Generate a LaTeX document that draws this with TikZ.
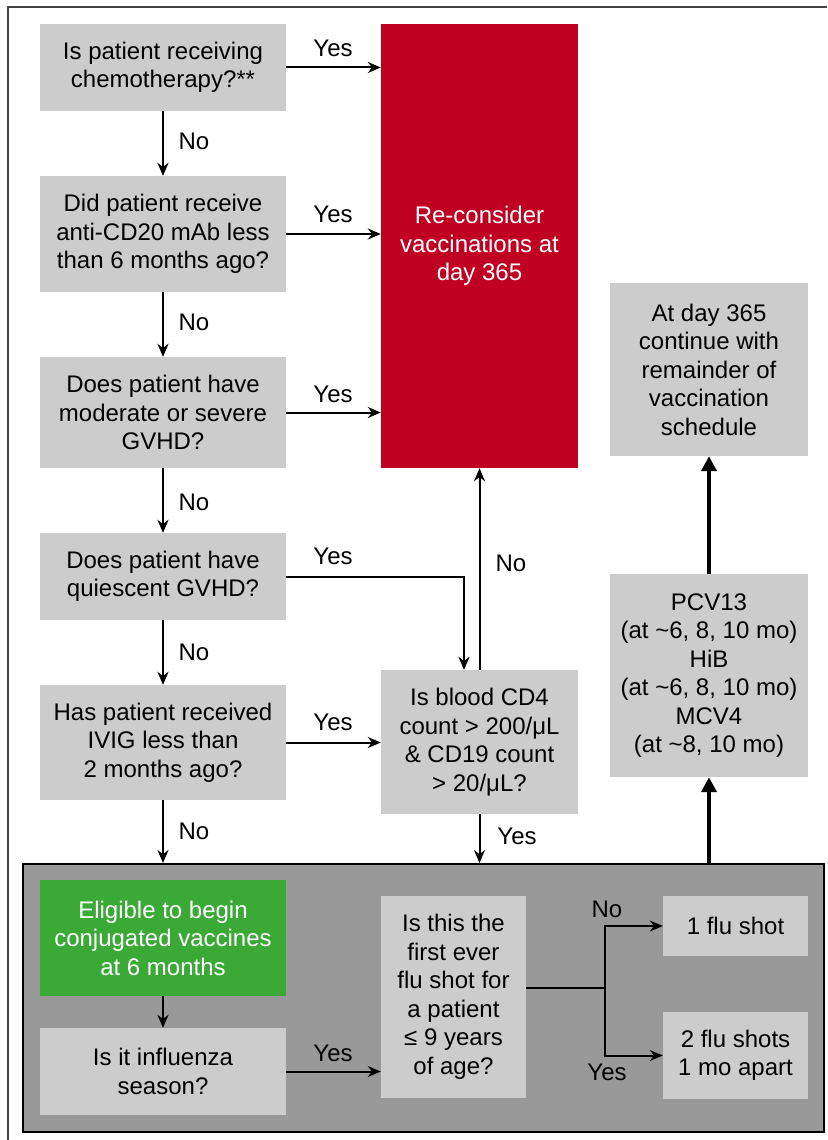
\documentclass[tikz,border=0pt]{standalone}
\usepackage{fontspec}
\setmainfont{Liberation Sans}
\usetikzlibrary{arrows.meta,calc}
\definecolor{boxgray}{HTML}{CCCCCC}
\definecolor{panelgray}{HTML}{999999}
\definecolor{redbox}{HTML}{C00022}
\definecolor{greenbox}{HTML}{3BA935}
\definecolor{framegray}{HTML}{444444}
\begin{document}
\begin{tikzpicture}[x=1pt,y=-1pt,
  every node/.style={font=\fontsize{24}{28.5}\selectfont, align=center, inner sep=0pt},
  box/.style={fill=boxgray, draw=none},
  arr/.style={line width=2pt, -{Stealth[length=13pt,width=11pt]}},
  plain/.style={line width=2pt},
  thickarr/.style={line width=4.5pt, -{Triangle[length=15pt,width=15pt]}}
]
\useasboundingbox (0,0) rectangle (827,1140);
\draw[framegray, line width=1.5pt] (8,1140) -- (8,7) -- (827,7);

% left column
\node[box, minimum width=246pt, minimum height=87pt] (b1) at (163,67.5) {Is patient receiving\\chemotherapy?**};
\node[box, minimum width=246pt, minimum height=116pt] (b2) at (163,234) {Did patient receive\\anti-CD20 mAb less\\than 6 months ago?};
\node[box, minimum width=246pt, minimum height=111pt] (b3) at (163,412.5) {Does patient have\\moderate or severe\\GVHD?};
\node[box, minimum width=246pt, minimum height=87pt] (b4) at (163,576.5) {Does patient have\\quiescent GVHD?};
\node[box, minimum width=246pt, minimum height=115pt] (b5) at (163,742.5) {Has patient received\\IVIG less than\\2 months ago?};

% middle column
\node[fill=redbox, text=white, minimum width=197pt, minimum height=444pt] (red) at (479.5,246) {Re-consider\\vaccinations at\\day 365};
\node[box, minimum width=197pt, minimum height=144pt] (blood) at (479.5,742) {Is blood CD4\\count > 200/μL\\\& CD19 count\\> 20/μL?};

% right column
\node[box, minimum width=198pt, minimum height=173pt] (day365) at (709,369.5) {At day 365\\continue with\\remainder of\\vaccination\\schedule};
\node[box, minimum width=198pt, minimum height=203pt] (pcv) at (709,675.5) {PCV13\\(at \textasciitilde6, 8, 10 mo)\\HiB\\(at \textasciitilde6, 8, 10 mo)\\MCV4\\(at \textasciitilde8, 10 mo)};

% panel
\node[fill=panelgray, draw=black, line width=2pt, minimum width=801pt, minimum height=268pt] (panel) at (423.5,998) {};
\node[fill=greenbox, text=white, minimum width=246pt, minimum height=116pt] (green) at (163,938) {Eligible to begin\\conjugated vaccines\\at 6 months};
\node[box, minimum width=246pt, minimum height=87pt] (flu) at (163,1071.5) {Is it influenza\\season?};
\node[box, minimum width=145pt, minimum height=202pt] (first) at (453.5,997) {Is this the\\first ever\\flu shot for\\a patient\\≤ 9 years\\of age?};
\node[box, minimum width=145pt, minimum height=60pt] (flu1) at (735.5,926) {1 flu shot};
\node[box, minimum width=145pt, minimum height=87pt] (flu2) at (735.5,1055.5) {2 flu shots\\1 mo apart};

% vertical No arrows
\draw[arr] (b1.south) -- (b2.north);
\draw[arr] (b2.south) -- (b3.north);
\draw[arr] (b3.south) -- (b4.north);
\draw[arr] (b4.south) -- (b5.north);
\draw[arr] (b5.south) -- (b5.south |- panel.north);
\draw[arr] (green.south) -- (flu.north);

% Yes arrows to red
\draw[arr] (b1.east) -- (b1.east -| red.west);
\draw[arr] (b2.east) -- (b2.east -| red.west);
\draw[arr] (b3.east) -- (b3.east -| red.west);
\coordinate (bendx) at (464,0);
\draw[arr] (b4.east) -| (bendx |- blood.north);
\draw[arr] (b5.east) -- (b5.east -| blood.west);
\draw[arr] (blood.north) -- (blood.north |- red.south);
\draw[arr] (blood.south) -- (blood.south |- panel.north);

% thick arrows
\draw[thickarr] (pcv.south |- panel.north) -- (pcv.south);
\draw[thickarr] (pcv.north) -- (day365.south);

% flu
\draw[arr] (flu.east) -- (flu.east -| first.west);
\coordinate (fork) at (605,988);
\draw[plain] (fork -| first.east) -- (fork);
\draw[arr] (fork) |- (flu1.west);
\draw[arr] (fork) |- (flu2.west);

% labels
\node (ly1) at (333,48) {Yes};
\node (ly2) at (333,214) {Yes};
\node (ly3) at (333,394) {Yes};
\node (ly4) at (333,556) {Yes};
\node (ly5) at (333,722) {Yes};
\node (ly6) at (333,1053) {Yes};
\node (ly7) at (517,836) {Yes};
\node (ly8) at (607,1072) {Yes};
\node (ln1) at (194,141) {No};
\node (ln2) at (194,322) {No};
\node (ln3) at (194,502) {No};
\node (ln4) at (194,652) {No};
\node (ln5) at (194,831) {No};
\node (ln6) at (511,563) {No};
\node (ln7) at (607,909) {No};
\end{tikzpicture}
\end{document}
